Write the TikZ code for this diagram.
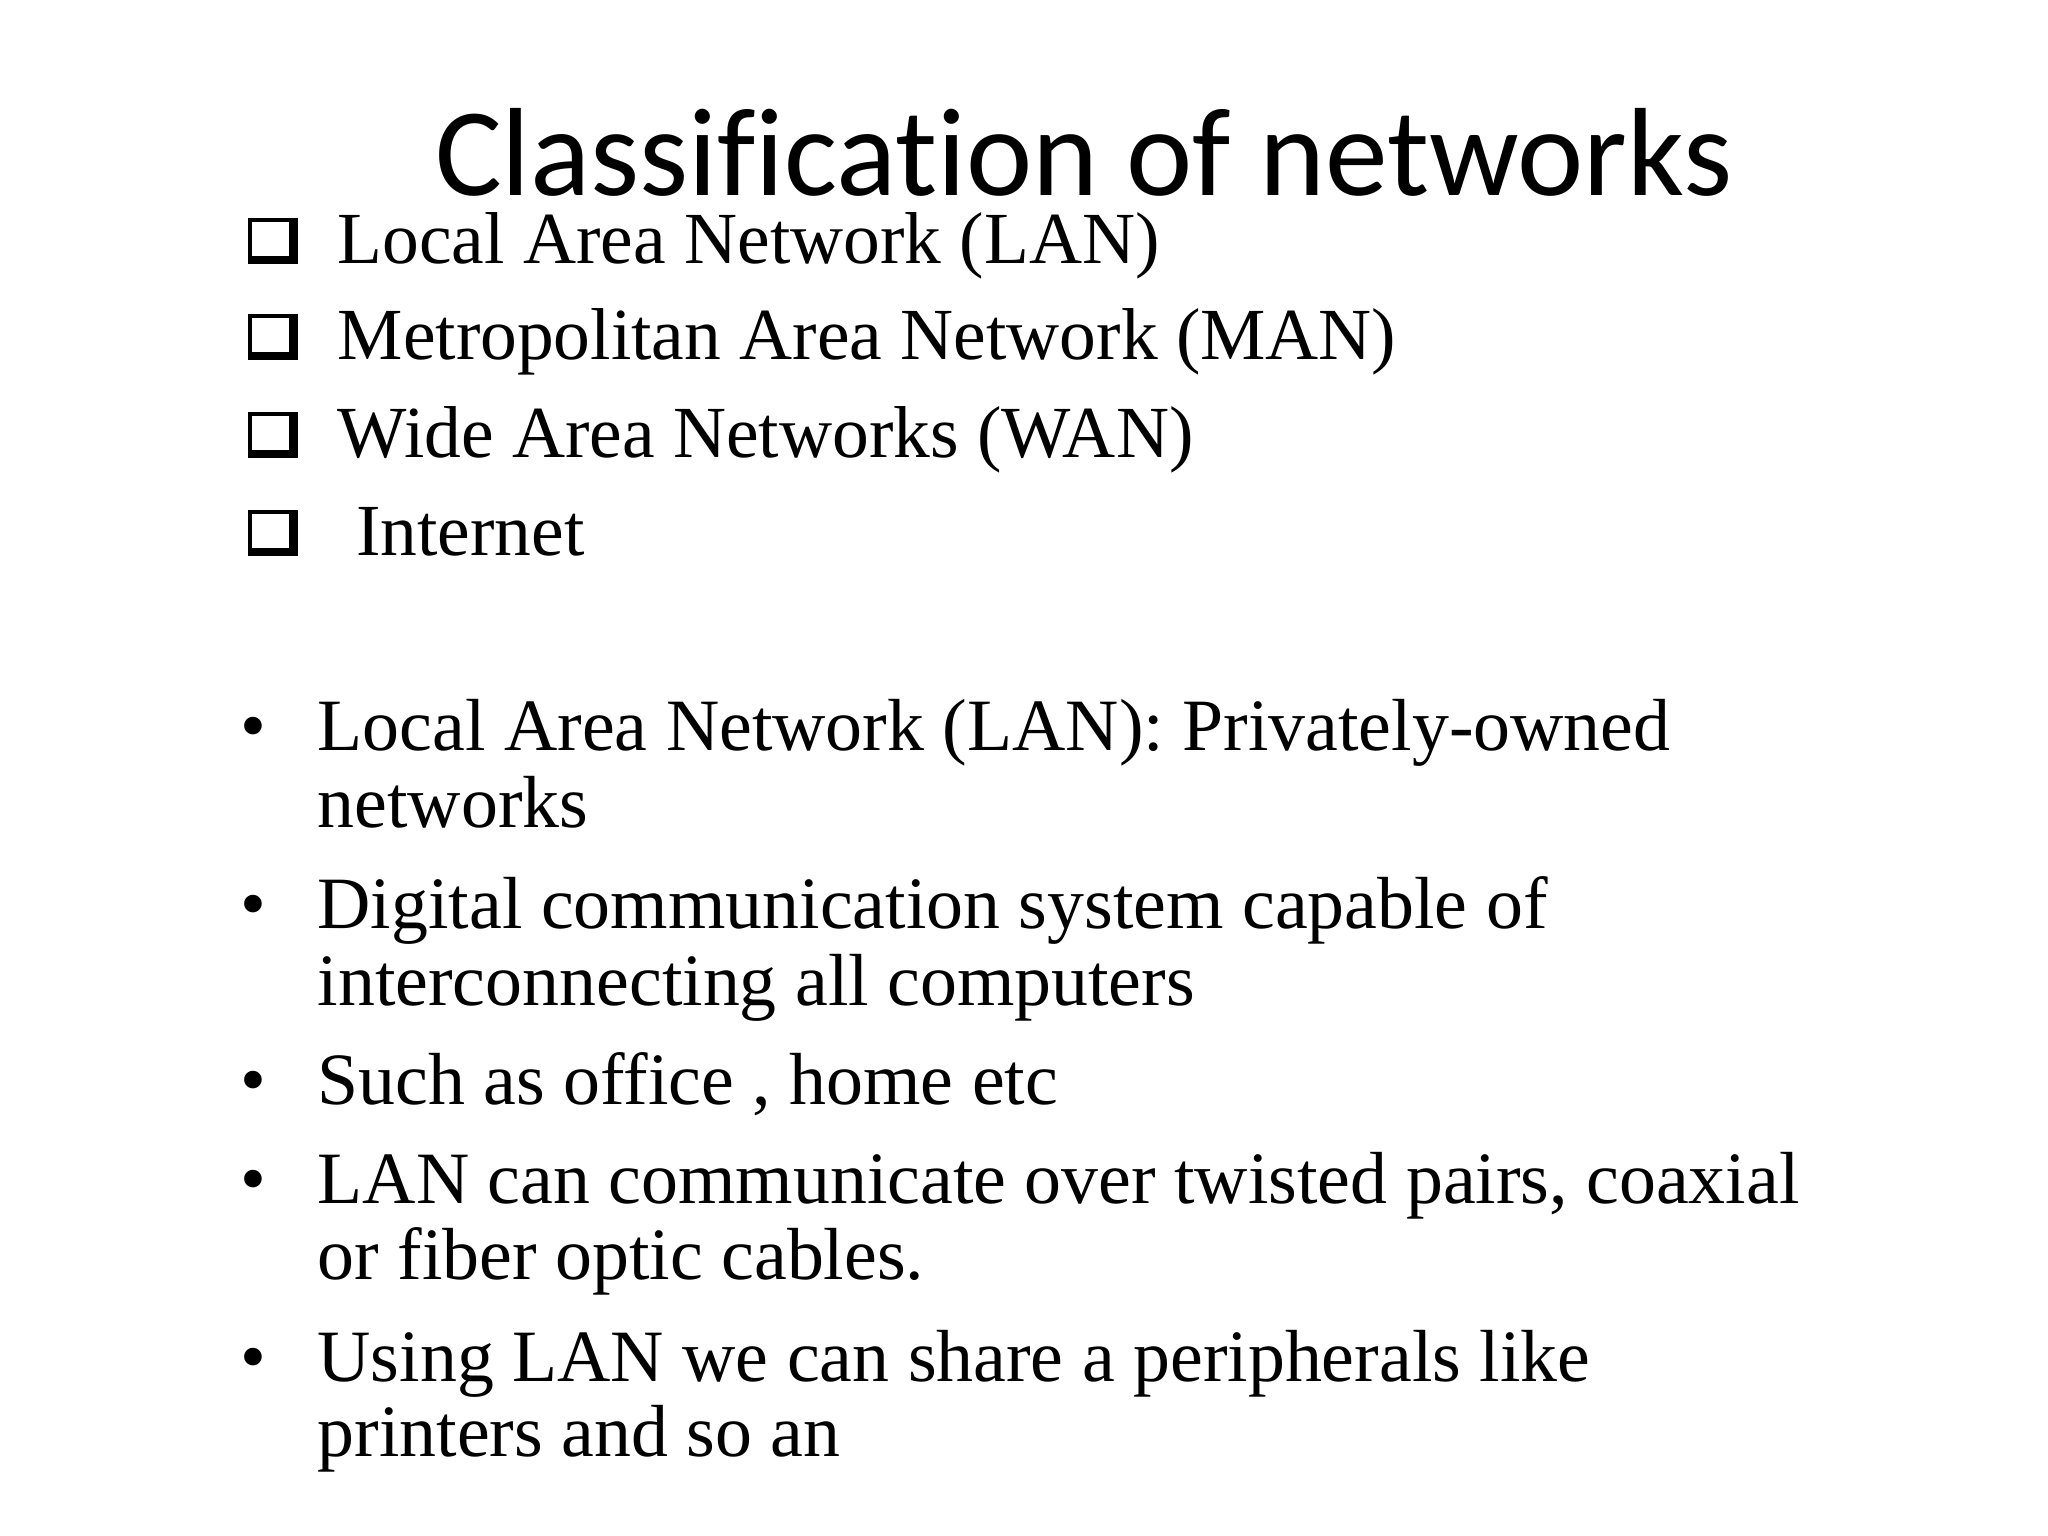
\documentclass[tikz,border=0pt]{standalone}
\usepackage{fontspec}
\setmainfont{Liberation Serif}
\newfontfamily\titlefont[Ligatures=NoCommon]{Carlito}
\begin{document}
\begin{tikzpicture}[x=1cm,y=1cm,
  txt/.style={anchor=base west,inner sep=0pt,font=\fontsize{20.9}{25}\selectfont},
  btxt/.style={anchor=base west,inner sep=0pt,font=\fontsize{21}{25}\selectfont},
  bul/.style={anchor=base,inner sep=0pt,font=\fontsize{21}{25}\selectfont}]
\useasboundingbox[fill=white] (0,0) rectangle (20.48,15.36);
\node[anchor=base,inner sep=0pt,font=\titlefont\fontsize{35.7}{42}\selectfont] (title) at (10.84,13.40) {Classification of networks};
\foreach \y/\t/\n in {2.64/Local Area Network (LAN)/a,3.60/Metropolitan Area Network (MAN)/b,4.58/Wide Area Networks (WAN)/c,5.56/{\ Internet}/d}{
  \pgfmathsetmacro\yy{15.36-\y}
  \fill[black] (2.48,\yy+0.0) rectangle (2.98,\yy+0.46);
  \fill[white] (2.48+0.04,\yy+0.08) rectangle (2.98-0.09,\yy+0.46-0.04);
  \node[txt] (\n) at (3.37,\yy) {\t};
}
\foreach \y/\t/\n/\b in {7.51/{Local Area Network (LAN): Privately-owned}/e/1,8.28/networks/f/0,
  9.29/{Digital communication system capable of}/g/1,10.06/interconnecting all computers/h/0,
  11.05/{Such as office , home etc}/i/1,
  12.04/{LAN can communicate over twisted pairs, coaxial}/j/1,12.80/{or fiber optic cables.}/k/0,
  13.82/{Using LAN we can share a peripherals like}/l/1,14.57/printers and so an/m/0}{
  \pgfmathsetmacro\yy{15.36-\y}
  \node[btxt] (\n) at (3.17,\yy) {\t};
  \ifnum\b=1 \node[bul] at (2.53,\yy) {•};\fi
}
\end{tikzpicture}
\end{document}
